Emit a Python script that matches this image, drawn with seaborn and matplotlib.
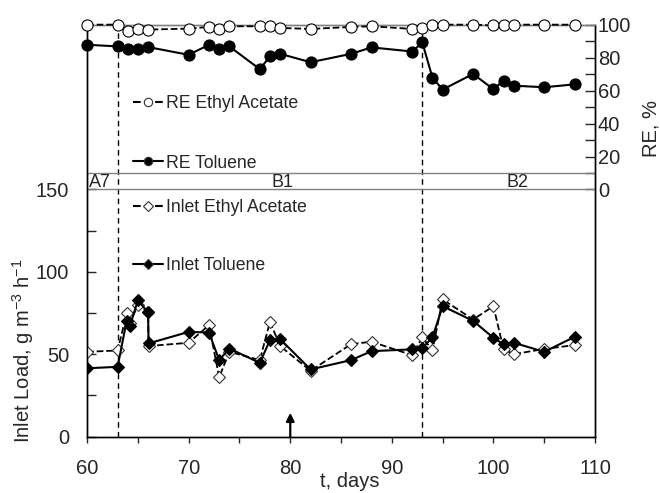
import matplotlib
matplotlib.use("Agg")
import matplotlib.pyplot as plt
from matplotlib.lines import Line2D
from matplotlib.ticker import MultipleLocator
import seaborn as sns

# removal efficiency, %
re_days = [60, 63, 64, 65, 66, 70, 72, 73, 74, 77, 78, 79, 82, 86, 88,
           92, 93, 94, 95, 98, 100, 101, 102, 105, 108]
re_ethyl_acetate = [100, 100, 95.9, 97.6, 97, 97.6, 98.6, 97.4, 99, 99, 99, 98, 97.4,
                    98.6, 99, 97.4, 98, 100, 100, 100, 99.5, 99.5, 100, 100, 100]
re_toluene = [87.8, 86.8, 85.2, 85.2, 86.4, 81.7, 87.8, 85.4, 86.8, 73.0, 80.7, 82.3,
              77.2, 82.3, 86.2, 83.7, 89.2, 67.8, 60.6, 70.1, 60.8, 66, 63, 62, 63.8]

# inlet load, g m-3 h-1
load_days = [60, 63, 63.9, 64.2, 65, 66, 66.05, 70, 72, 73, 74, 77, 78, 79, 82, 86, 88,
             92, 93, 94, 95, 98, 100, 101, 102, 105, 108]
load_ethyl_acetate = [51.5, 52.3, 74.8, 69, 79.8, 75.8, 55, 57, 67.7, 36, 51.5, 46.5,
                      69.7, 55, 40, 56.2, 57.6, 49.5, 60.2, 52.5, 83.3, 71.1, 79.2, 53,
                      50.1, 53.2, 55.6]
load_toluene = [41.5, 42.4, 70.5, 67, 82.8, 75.4, 56.6, 63.6, 63.2, 46.5, 53.5, 44.8,
                58.6, 59.2, 40.8, 46.5, 51.9, 53, 54, 60.2, 79.2, 70.3, 60, 56, 57,
                51.5, 60.6]

# operating phases
phase_bounds = [63, 93]
phase_labels = ["A7", "B1", "B2"]
phase_label_days = [60.2, 79.2, 102.4]
arrow_day = 80

sns.set_style("white")
plt.rcParams["font.family"] = ["Liberation Sans", "DejaVu Sans"]
plt.rcParams["mathtext.default"] = "regular"

fig, ax = plt.subplots(figsize=(6.6, 4.93), dpi=100)
fig.subplots_adjust(left=0.132, right=0.9015, bottom=0.1142, top=0.950)
ax2 = ax.twinx()

# inlet loads (left axis)
sns.lineplot(x=load_days, y=load_ethyl_acetate, ax=ax, color="k", linestyle="--", lw=1.3,
             marker="D", markersize=6.3, markerfacecolor="white", markeredgecolor="#333333",
             markeredgewidth=0.8, estimator=None, sort=False, zorder=3)
sns.lineplot(x=load_days, y=load_toluene, ax=ax, color="k", lw=1.5,
             marker="D", markersize=6.3, markerfacecolor="k", markeredgecolor="k",
             markeredgewidth=0.8, estimator=None, sort=False, zorder=4)

# removal efficiencies (right axis)
sns.lineplot(x=re_days, y=re_ethyl_acetate, ax=ax2, color="k", linestyle="--", lw=1.3,
             marker="o", markersize=8, markerfacecolor="white", markeredgecolor="k",
             markeredgewidth=0.8, estimator=None, sort=False, zorder=3, clip_on=False)
sns.lineplot(x=re_days, y=re_toluene, ax=ax2, color="k", lw=1.5,
             marker="o", markersize=8, markerfacecolor="k", markeredgecolor="k",
             markeredgewidth=0.8, estimator=None, sort=False, zorder=4, clip_on=False)

# phase band and boundaries
for b in phase_bounds:
    ax.axvline(b, color="k", lw=1, linestyle=(0, (4, 3)), zorder=2)
ax2.axhline(0, color="#808080", lw=1)
ax2.axhline(10, color="#808080", lw=1)
for lab, d in zip(phase_labels, phase_label_days):
    ax2.text(d, 4.5, lab, fontsize=13, ha="left" if lab == "A7" else "center", va="center")

ax.annotate("", xy=(arrow_day, 14.5), xytext=(arrow_day, 0),
            arrowprops=dict(arrowstyle="-|>", color="k", lw=1.6, mutation_scale=12,
                            shrinkA=0, shrinkB=0))

# axes
ax.set_xlim(60, 110)
ax.set_ylim(0, 250)
ax2.set_ylim(-150, 100)
ax.set_xticks(range(60, 111, 10))
ax.xaxis.set_minor_locator(MultipleLocator(5))
ax.set_yticks([0, 50, 100, 150])
ax.set_yticks([25, 75, 125], minor=True)
ax2.set_yticks(range(0, 101, 20))
ax2.set_yticks(range(10, 100, 20), minor=True)

ax.tick_params(axis="x", which="both", direction="out", length=4, width=1, pad=12,
               labelsize=14.5, bottom=True)
ax.tick_params(axis="y", which="both", direction="in", length=6.5, width=1, pad=13,
               labelsize=14.5, left=True)
ax2.tick_params(axis="y", which="both", direction="in", length=7, width=1, pad=2,
                labelsize=14.5, right=True)

for a in (ax, ax2):
    for s in a.spines.values():
        s.set_color("k")
        s.set_linewidth(1)
    a.spines["top"].set_color("#808080")

ax.set_xlabel("t, days", fontsize=14.5)
ax.xaxis.set_label_coords(0.517, -0.086)
ax.set_ylabel("Inlet Load, g m$^{-3}$ h$^{-1}$", fontsize=14.5)
ax.yaxis.set_label_coords(-0.101, 0.208)
ax2.set_ylabel("RE, %", fontsize=14.5)
ax2.yaxis.set_label_coords(1.091, 0.748)

# legend entries placed separately
entries = [
    ("RE Ethyl Acetate", "--", "o", "white", 104),
    ("RE Toluene", "-", "o", "k", 163),
    ("Inlet Ethyl Acetate", "--", "D", "white", 208),
    ("Inlet Toluene", "-", "D", "k", 266),
]
for label, ls, mk, fc, ypix in entries:
    h = Line2D([], [], color="k", linestyle=ls, lw=1.5, marker=mk,
               markersize=6 if mk == "o" else 5, markerfacecolor=fc,
               markeredgecolor="#333333", markeredgewidth=0.8)
    fig.legend(handles=[h], labels=[label], loc="center left",
               bbox_to_anchor=(133 / 660, 1 - ypix / 493),
               frameon=False, borderpad=0, borderaxespad=0, handlelength=1.7,
               handletextpad=0.15, fontsize=12.7)

fig.savefig("out.png", dpi=100)
